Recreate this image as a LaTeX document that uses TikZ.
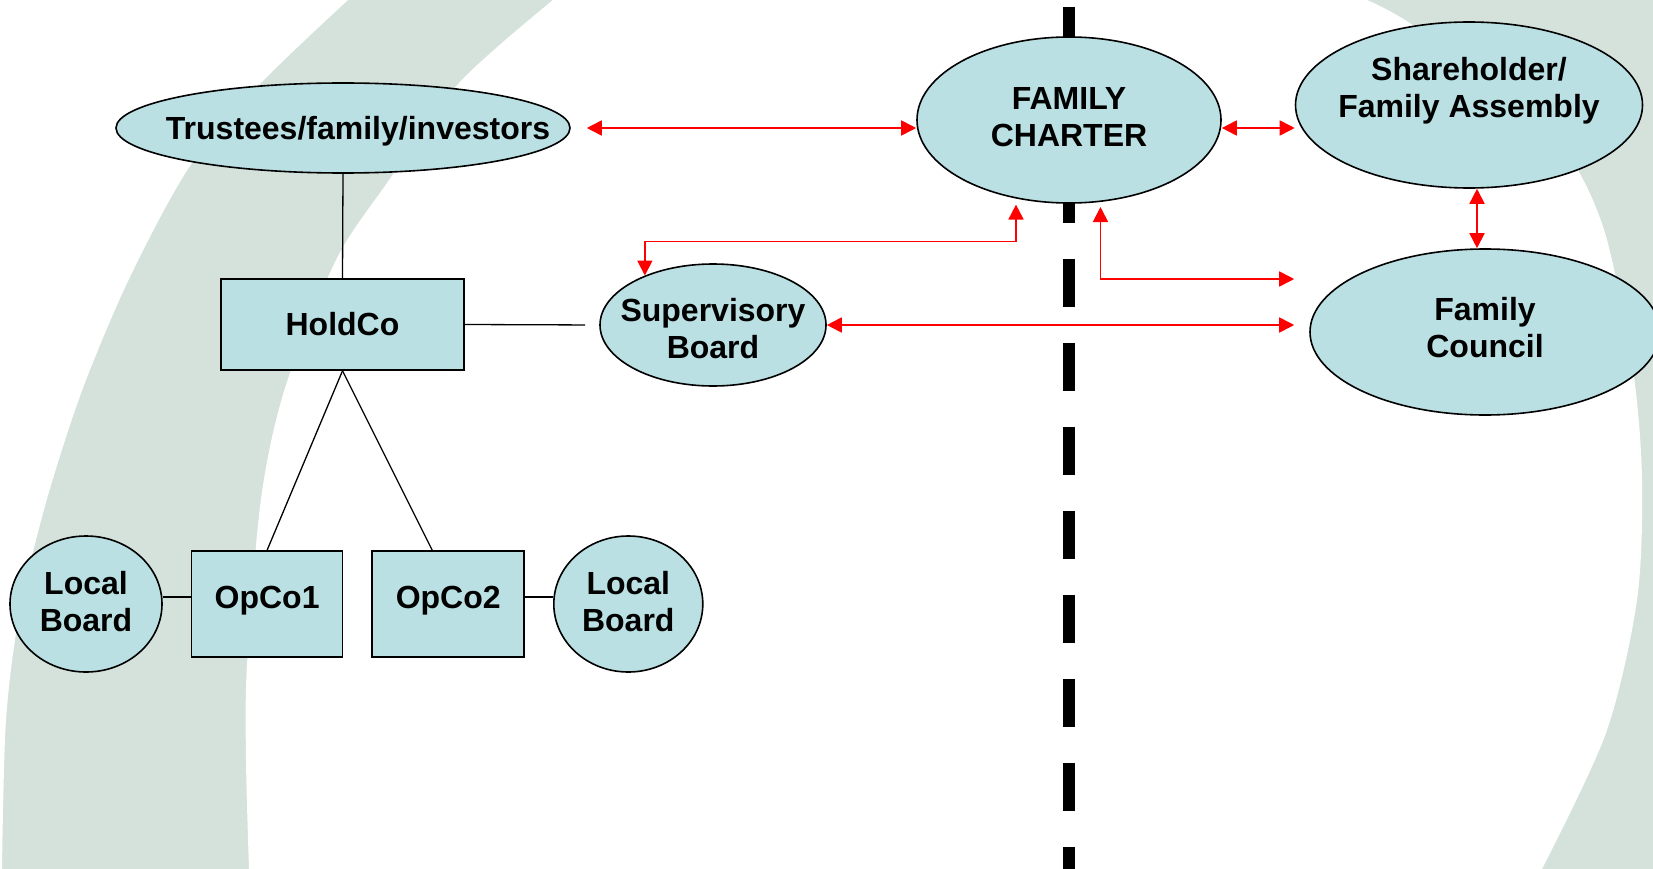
\documentclass[tikz,border=0pt]{standalone}
\usepackage{fontspec}
\setmainfont{Liberation Sans}
\usepackage{xcolor}
\usepackage{tikz}
\usetikzlibrary{positioning, arrows.meta, shapes.geometric}

\definecolor{nodeteal}{HTML}{BAE0E3}
\definecolor{bandgrey}{HTML}{D4E2DB}
\definecolor{linkred}{HTML}{FF0000}

\begin{document}
\begin{tikzpicture}[
    x=1pt, y=-1pt,
    node distance=28pt,
    every node/.style={font=\bfseries\fontsize{32}{37}\selectfont},
    % pale teal ovals for the governance bodies
    govoval/.style={ellipse, draw, line width=1.6pt, fill=nodeteal,
                    inner xsep=-60pt, inner ysep=0pt, align=center},
    % pale teal boxes for the companies
    cobox/.style={rectangle, draw, line width=1.6pt, fill=nodeteal,
                  inner sep=0pt, align=center},
    % thin black ownership lines
    tie/.style={line width=1.3pt},
    % red two-way links towards the family side
    flow/.style={linkred, line width=1.8pt,
                 {Triangle[length=15pt, width=15pt]}-{Triangle[length=15pt, width=15pt]}},
    % business side | family side
    divide/.style={line width=12pt, dash pattern=on 48pt off 36pt}
]

\useasboundingbox (0,0) rectangle (1653,869);

% backdrop: grey ring behind the chart
\fill[bandgrey] (0,0) rectangle (1653,869);
\fill[white] (0,0) -- plot[smooth] coordinates {(348,0) (261,83) (190,166) (130,277) (83,388)
                                                (47,499) (20,610) (6,720) (2,869)}
    -- (0,869) -- cycle;
\fill[white] plot[smooth] coordinates {(249,869) (246,760) (247,665) (261,499) (285,388)
                                       (336,260) (387,183) (459,83) (553,0)}
    -- plot[smooth] coordinates {(1367,0) (1405,20) (1500,85) (1567,153) (1605,233) (1633,370)
                                 (1642,480) (1637,600) (1606,733) (1542,869)} -- cycle;

\coordinate (divtop) at (1069,7);
\coordinate (divbot) at (1069,869);
\draw[divide] (divtop) -- (divbot);

\node[govoval, minimum width=454pt, minimum height=90pt, text height=29.5pt] (trustees) at (343,128) {\hspace*{30pt}Trustees/family/investors};
\node[cobox, minimum width=243pt, minimum height=91pt] (holdco) at (342.5,324.5) {HoldCo};
\node[govoval, minimum width=226pt, minimum height=122pt, text height=67pt] (supervis) at (713,325) {Supervisory\\Board};

\node[govoval, minimum width=304pt, minimum height=166pt, text depth=6pt] (charter) at (1069,120) {FAMILY\\CHARTER};
\node[govoval, minimum width=347pt, minimum height=166pt, text depth=36pt] (assembly) at (1469,105) {Shareholder/\\Family Assembly};
\node[govoval, minimum width=350pt, minimum height=166pt, text depth=10pt] (council) at (1485,332) {Family\\Council};

\node[govoval, minimum width=152pt, minimum height=136pt, text depth=6pt] (localL) at (86,604) {Local\\Board};
\node[cobox, minimum width=151pt, minimum height=106pt, text depth=14pt, right=of localL] (opco1) {OpCo1};
\node[cobox, minimum width=152pt, minimum height=106pt, text depth=14pt, right=of opco1] (opco2) {OpCo2};
\node[govoval, minimum width=149pt, minimum height=136pt, text depth=6pt, right=of opco2] (localR) {Local\\Board};

% ownership lines
\draw[tie] (trustees.south) -- (holdco.north);
\draw[tie, shorten >=14pt] (holdco.east) -- (supervis.west);
\draw[tie] (holdco.south) -- (opco1.north);
\draw[tie] (holdco.south) -- ([xshift=-16pt]opco2.north);
\draw[tie] ([yshift=7pt]localL.east) -- ([yshift=7pt]localL.east -| opco1.west);
\draw[tie] ([yshift=7pt]opco2.east) -- ([yshift=7pt]opco2.east -| localR.west);

% links to the charter and the family bodies
\draw[flow, shorten <=16pt] (trustees.east) -- (trustees.east -| charter.west);
\draw[flow, shorten >=6pt] (supervis.144) -- ++(0,-34) -| (charter.236);
\draw[flow, shorten <=5pt, shorten >=15pt] (charter.291) |- ([yshift=53pt]council.west);
\draw[flow, shorten >=15pt] (supervis.east) -- (supervis.east -| council.west);
\draw[flow] ([yshift=-8pt]charter.east) -- ([yshift=-8pt]charter.east -| assembly.west);
\draw[flow] ([xshift=8pt]assembly.south) -- ([xshift=8pt]assembly.south |- council.north);

\end{tikzpicture}
\end{document}
